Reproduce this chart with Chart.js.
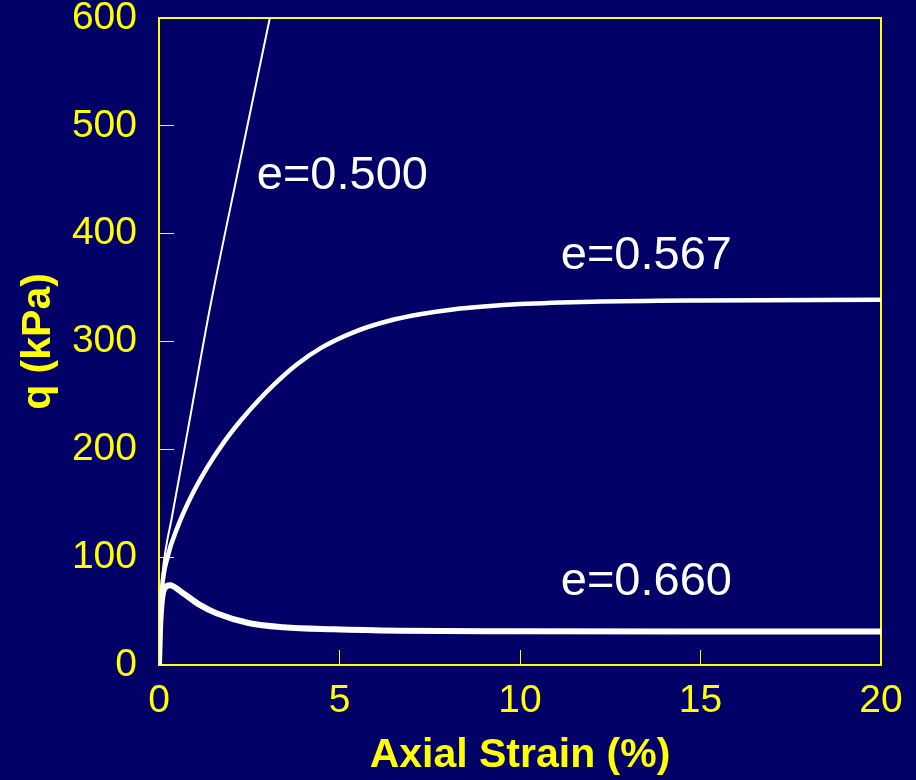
<!DOCTYPE html>
<html>
<head>
<meta charset="utf-8">
<title>q vs Axial Strain</title>
<script src="https://cdn.jsdelivr.net/npm/chart.js@4.4.1/dist/chart.umd.min.js"></script>
<style>
  html, body { margin: 0; padding: 0; background: #000066; }
  canvas { display: block; }
</style>
</head>
<body>
<canvas id="stressChart" width="916" height="780"></canvas>
<script>
// Deviator stress q (kPa) against axial strain (%) for three void ratios
const strain500 = [0, 0.04, 0.1, 0.2, 0.34, 0.8, 1.4, 2.2, 3.07];
const q500      = [0, 50, 85, 110, 134, 218, 329, 460, 600];

const strain567 = [0, 0.03, 0.08, 0.24, 0.52, 0.89, 1.35, 1.81, 2.27, 2.74, 3.2, 3.8, 4.5, 5.42, 6.35, 7.27, 8.19, 9, 10, 12, 15, 20];
const q567      = [0, 40, 70, 100.5, 128.3, 156.2, 184, 207.2, 227, 244.9, 260.5, 278.2, 294.3, 309, 319, 325.5, 330, 332.5, 334.7, 336.9, 338.1, 338.7];

const strain660 = [0, 0.03, 0.08, 0.15, 0.3, 0.67, 1.13, 1.59, 2.51, 3.44, 4.82, 6.67, 10, 15, 20];
const q660      = [0, 35, 60, 71, 74, 66.5, 55.7, 48, 38.7, 35, 33.1, 31.8, 31.3, 31, 31];

// curve labels: text, strain, q (baseline)
const curveLabels = [
    { text: 'e=0.500', x: 5.08, y: 441 },
    { text: 'e=0.567', x: 13.5, y: 367 },
    { text: 'e=0.660', x: 13.5, y: 65 }
];

const xTicks = [0, 5, 10, 15, 20];
const yTicks = [0, 100, 200, 300, 400, 500, 600];

const NAVY = '#000066';
const YELLOW = '#ffff00';

function toPoints(xs, ys) {
    return xs.map((x, i) => ({ x: x, y: ys[i] }));
}

// Background, frame around the plot area and the e= labels
const framePlugin = {
    id: 'frame',
    beforeDraw(chart) {
        const ctx = chart.ctx;
        ctx.save();
        ctx.fillStyle = NAVY;
        ctx.fillRect(0, 0, chart.width, chart.height);
        ctx.restore();
    },
    beforeDatasetsDraw(chart) {
        const { ctx, chartArea } = chart;
        ctx.save();
        ctx.strokeStyle = YELLOW;
        ctx.lineWidth = 2;
        ctx.strokeRect(chartArea.left, chartArea.top, chartArea.right - chartArea.left, chartArea.bottom - chartArea.top);
        ctx.restore();
    },
    afterDatasetsDraw(chart) {
        const { ctx, scales } = chart;
        ctx.save();
        ctx.fillStyle = '#ffffff';
        ctx.font = '47px "Liberation Sans", Arial, sans-serif';
        ctx.textAlign = 'center';
        ctx.textBaseline = 'alphabetic';
        curveLabels.forEach(l => {
            ctx.fillText(l.text, scales.x.getPixelForValue(l.x), scales.y.getPixelForValue(l.y));
        });
        ctx.restore();
    }
};

const ctx = document.getElementById('stressChart').getContext('2d');

new Chart(ctx, {
    type: 'scatter',
    data: {
        datasets: [
            {
                label: 'e=0.500',
                data: toPoints(strain500, q500),
                showLine: true,
                borderColor: '#ffffff',
                borderWidth: 2,
                pointRadius: 0,
                cubicInterpolationMode: 'monotone'
            },
            {
                label: 'e=0.567',
                data: toPoints(strain567, q567),
                showLine: true,
                borderColor: '#ffffff',
                borderWidth: 4.5,
                pointRadius: 0,
                borderCapStyle: 'round',
                cubicInterpolationMode: 'monotone'
            },
            {
                label: 'e=0.660',
                data: toPoints(strain660, q660),
                showLine: true,
                borderColor: '#ffffff',
                borderWidth: 6,
                pointRadius: 0,
                borderCapStyle: 'round',
                cubicInterpolationMode: 'monotone'
            }
        ]
    },
    options: {
        responsive: false,
        devicePixelRatio: 1,
        animation: false,
        layout: { padding: { top: 18, right: 35, left: 0, bottom: 0 } },
        plugins: {
            legend: { display: false },
            tooltip: { enabled: false }
        },
        scales: {
            x: {
                type: 'linear',
                min: 0,
                max: 20,
                afterFit: scale => {
                    scale.height = 115;
                    scale.paddingLeft = 0;
                    scale.paddingRight = 0;
                },
                afterBuildTicks: scale => { scale.ticks = xTicks.map(v => ({ value: v })); },
                border: { color: YELLOW, width: 2 },
                grid: {
                    drawOnChartArea: false,
                    tickLength: -15,
                    tickColor: YELLOW,
                    lineWidth: 1
                },
                ticks: {
                    color: YELLOW,
                    padding: 28,
                    maxRotation: 0,
                    font: { family: '"Liberation Sans", Arial, sans-serif', size: 39 }
                },
                title: {
                    display: true,
                    text: 'Axial Strain (%)',
                    color: YELLOW,
                    padding: { top: 6, bottom: 0 },
                    font: { family: '"Liberation Sans", Arial, sans-serif', size: 41, weight: 'bold' }
                }
            },
            y: {
                type: 'linear',
                min: 0,
                max: 600,
                afterFit: scale => {
                    scale.width = 159;
                    scale.paddingTop = 0;
                    scale.paddingBottom = 0;
                },
                afterBuildTicks: scale => { scale.ticks = yTicks.map(v => ({ value: v })); },
                border: { color: YELLOW, width: 2 },
                grid: {
                    drawOnChartArea: false,
                    tickLength: -15,
                    tickColor: YELLOW,
                    lineWidth: 1
                },
                ticks: {
                    color: YELLOW,
                    padding: 37,
                    font: { family: '"Liberation Sans", Arial, sans-serif', size: 39 }
                },
                title: {
                    display: true,
                    text: 'q (kPa)',
                    color: YELLOW,
                    padding: { top: 14, bottom: 0 },
                    font: { family: '"Liberation Sans", Arial, sans-serif', size: 41, weight: 'bold' }
                }
            }
        }
    },
    plugins: [framePlugin]
});
</script>
</body>
</html>
